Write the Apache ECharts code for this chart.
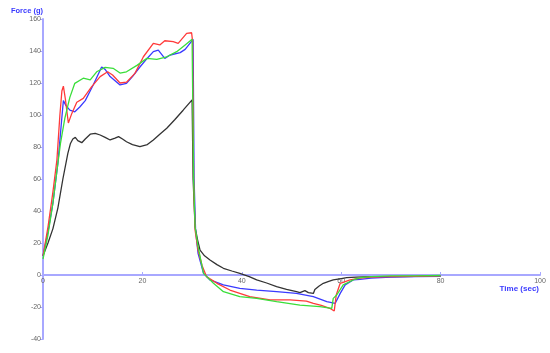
<!DOCTYPE html>
<html>
<head>
<meta charset="utf-8">
<script src="https://cdn.jsdelivr.net/npm/echarts@6/dist/echarts.min.js"></script>
<style>html,body{margin:0;padding:0;background:#fff}#c{width:550px;height:353px}</style>
</head>
<body>
<div id="c"></div>
<script>
const xTicks = [0, 20, 40, 60, 80, 100];
const yTicks = [-40, -20, 0, 20, 40, 60, 80, 100, 120, 140, 160];

const blackT = [0, 1, 2, 3, 4, 5, 5.5, 6, 6.5, 7, 7.8, 8.5, 9.5, 10.5, 11.5, 12.5, 13.5, 14.5, 15.2, 16, 16.8, 18, 19.5, 21, 22.2, 23.5, 24.9, 26.5, 28.2, 30, 30.2, 30.6, 31.1, 31.6, 32.5, 33.6, 35, 36.3, 38, 39.6, 41.5, 43, 45, 47, 49, 51, 51.7, 52.7, 53.4, 54.4, 54.7, 55.5, 56.4, 57.5, 58.4, 60, 61.1, 63, 66, 70, 75, 80];
const blackF = [12, 20, 29, 42, 60, 76, 82, 85, 86, 84, 82.7, 85, 88, 88.5, 87.5, 86, 84.4, 85.5, 86.5, 85, 83.3, 81.5, 80.2, 81.5, 84.4, 88, 91.7, 97, 103, 109.5, 60, 30, 22, 15.6, 12, 9.4, 6.5, 4.2, 2.5, 1, -1, -3.1, -5, -7.3, -9, -10.4, -11, -9.8, -11, -11.5, -9, -7, -5.2, -4, -3.1, -2.2, -1.7, -1.3, -1, -1, -0.8, -0.8];

const redT = [0, 1, 2, 2.8, 3.4, 3.8, 4.1, 4.5, 5.1, 5.8, 6.8, 8.1, 9.8, 11.5, 13, 14, 15.5, 16.8, 18.5, 20.2, 22.2, 23.5, 24.5, 26.2, 27.2, 28.9, 29.9, 30.1, 30.3, 30.6, 31.2, 32, 32.9, 35, 37.6, 41.6, 45.7, 49.7, 53, 54.4, 56, 57.7, 58.6, 59, 59.8, 61.8, 63.8, 66, 70, 75, 80];
const redF = [12, 30, 52, 72, 100, 115, 118, 110, 95, 101, 108, 110.4, 117.7, 124, 127, 125, 120, 120.5, 126, 136.4, 144.8, 143.8, 146.4, 145.8, 144.8, 151, 151.4, 146, 60, 28, 15.6, 6, -1, -5.2, -9.4, -13.5, -15.6, -15.6, -16.3, -17.7, -19, -20.8, -22.5, -12.5, -5.2, -3.1, -2, -1.3, -1, -0.8, -0.5];

const blueT = [0, 1, 2, 3, 3.7, 4.1, 4.6, 5.4, 6.4, 7.4, 8.5, 10.1, 11.8, 12.5, 13.5, 15.5, 16.8, 18, 19.5, 21, 22.2, 23.2, 24.5, 25.6, 27.6, 28.6, 30.2, 30.4, 30.7, 31.2, 32.3, 33.6, 36.3, 39.6, 43, 47, 51, 54.4, 57.1, 58.8, 59.8, 60.8, 62.4, 63.8, 66, 70, 75, 80];
const blueF = [12, 27, 45, 70, 95, 109, 106, 103, 102, 105, 109, 118.8, 130, 128.5, 124, 118.8, 119.8, 124, 130, 135.5, 139.6, 140.6, 135.4, 137.5, 139, 141, 147.3, 60, 28, 13.5, 1, -3.1, -6.2, -8.3, -9.4, -10.4, -11.5, -13.5, -16.7, -17.7, -11.5, -6.2, -3.1, -2.7, -2, -1.3, -1, -0.8];

const greenT = [0, 1, 2, 2.8, 3.5, 4.4, 5.4, 6.4, 8.1, 9.5, 10.8, 12.5, 14.1, 15.5, 16.8, 18.9, 20.9, 22.9, 24.9, 26.9, 28.6, 30, 30.3, 30.6, 31.2, 32.3, 34.3, 36.3, 39.6, 43, 47, 51.7, 55.7, 58.1, 58.4, 59.1, 60.4, 62.4, 63.8, 66, 70, 75, 80];
const greenF = [10, 25, 45, 65, 82, 98, 111, 119.8, 123, 121.9, 127, 129.8, 129.2, 126.2, 127, 131, 135.4, 134.8, 136.4, 139.6, 143.8, 147.3, 60, 30, 17.7, 1, -5.2, -10.4, -13.5, -14.6, -16.7, -18.8, -19.8, -20.8, -14.6, -12.5, -6.2, -3.1, -1.7, -1, -0.6, -0.5, -0.3];

function pairs(t, f) { return t.map((v, i) => [v, f[i]]); }

const gridTop = 19, gridBottom = 14, chartH = 353;
const plotH = chartH - gridTop - gridBottom;
const yMin = yTicks[0], yMax = yTicks[yTicks.length - 1];
const zeroOffset = -plotH * (0 - yMin) / (yMax - yMin);

const axisColor = '#a8a8ff';
const chart = echarts.init(document.getElementById('c'), null, { renderer: 'canvas' });
const mk = (name, color, t, f) => ({
  name, type: 'line', data: pairs(t, f), showSymbol: false, symbol: 'none',
  lineStyle: { color, width: 1.3 }, itemStyle: { color }, animation: false
});
chart.setOption({
  animation: false,
  grid: { left: 43, right: 10, top: gridTop, bottom: gridBottom, containLabel: false },
  xAxis: {
    type: 'value', min: xTicks[0], max: xTicks[xTicks.length - 1], interval: 20,
    position: 'bottom', offset: zeroOffset,
    name: 'Time (sec)', nameLocation: 'end', nameGap: -1,
    nameTextStyle: { color: '#3a3aff', fontWeight: 'bold', fontSize: 8, fontFamily: 'Liberation Sans, Arial', align: 'right', verticalAlign: 'top', padding: [10, 0, 0, 0] },
    axisLine: { onZero: false, lineStyle: { color: axisColor, width: 2 } },
    axisTick: { inside: true, length: 3, lineStyle: { color: axisColor, width: 1 } },
    axisLabel: { color: '#666', fontSize: 7, fontFamily: 'Liberation Sans, Arial', margin: 3 },
    splitLine: { show: false }
  },
  yAxis: {
    type: 'value', min: yMin, max: yMax, interval: 20,
    name: 'Force (g)', nameLocation: 'end', nameGap: 4,
    nameTextStyle: { color: '#3a3aff', fontWeight: 'bold', fontSize: 7.5, fontFamily: 'Liberation Sans, Arial', align: 'right' },
    axisLine: { onZero: false, lineStyle: { color: axisColor, width: 2 } },
    axisTick: { inside: false, length: 3, lineStyle: { color: axisColor, width: 1 } },
    axisLabel: { color: '#666', fontSize: 7, fontFamily: 'Liberation Sans, Arial', margin: 2 },
    splitLine: { show: false }
  },
  series: [
    mk('black', '#333333', blackT, blackF),
    mk('blue', '#3a3aff', blueT, blueF),
    mk('red', '#ff3a3a', redT, redF),
    mk('green', '#3ade3a', greenT, greenF)
  ]
});
</script>
</body>
</html>
